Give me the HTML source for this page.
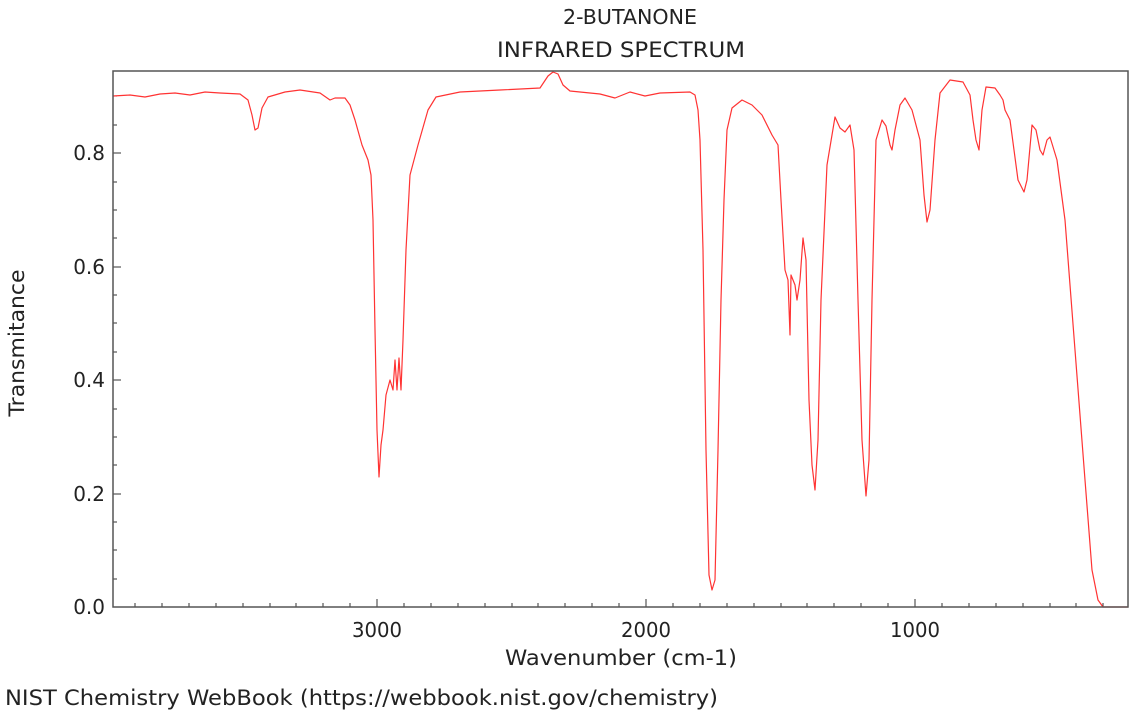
<!DOCTYPE html>
<html><head><meta charset="utf-8"><style>
html,body{margin:0;padding:0;background:#fff;}
svg{display:block;font-family:"DejaVu Sans","Liberation Sans",sans-serif;}
</style></head><body>
<svg width="1130" height="712" viewBox="0 0 1130 712" xmlns="http://www.w3.org/2000/svg">
<rect width="1130" height="712" fill="#fff"/>
<text x="630" y="24" font-size="20" text-anchor="middle" fill="#222" textLength="134" lengthAdjust="spacingAndGlyphs">2-BUTANONE</text>
<text x="621" y="57" font-size="21" text-anchor="middle" fill="#222" textLength="248" lengthAdjust="spacingAndGlyphs">INFRARED SPECTRUM</text>
<g stroke="#333" stroke-width="1">
<line x1="113" y1="153" x2="121" y2="153"/><line x1="113" y1="267" x2="121" y2="267"/>
<line x1="113" y1="380" x2="121" y2="380"/><line x1="113" y1="494" x2="121" y2="494"/>
<line x1="113" y1="96" x2="117" y2="96"/><line x1="113" y1="125" x2="117" y2="125"/>
<line x1="113" y1="182" x2="117" y2="182"/><line x1="113" y1="210" x2="117" y2="210"/><line x1="113" y1="238" x2="117" y2="238"/>
<line x1="113" y1="295" x2="117" y2="295"/><line x1="113" y1="323" x2="117" y2="323"/><line x1="113" y1="352" x2="117" y2="352"/>
<line x1="113" y1="409" x2="117" y2="409"/><line x1="113" y1="437" x2="117" y2="437"/><line x1="113" y1="465" x2="117" y2="465"/>
<line x1="113" y1="522" x2="117" y2="522"/><line x1="113" y1="550" x2="117" y2="550"/><line x1="113" y1="579" x2="117" y2="579"/>
<line x1="377" y1="607" x2="377" y2="599"/><line x1="646" y1="607" x2="646" y2="599"/><line x1="915" y1="607" x2="915" y2="599"/>
</g>
<g stroke="#333" stroke-width="1">
<line x1="135" y1="607" x2="135" y2="603"/><line x1="162" y1="607" x2="162" y2="603"/><line x1="189" y1="607" x2="189" y2="603"/><line x1="216" y1="607" x2="216" y2="603"/><line x1="243" y1="607" x2="243" y2="603"/><line x1="270" y1="607" x2="270" y2="603"/><line x1="296" y1="607" x2="296" y2="603"/><line x1="323" y1="607" x2="323" y2="603"/><line x1="350" y1="607" x2="350" y2="603"/>
<line x1="404" y1="607" x2="404" y2="603"/><line x1="431" y1="607" x2="431" y2="603"/><line x1="458" y1="607" x2="458" y2="603"/><line x1="485" y1="607" x2="485" y2="603"/><line x1="512" y1="607" x2="512" y2="603"/><line x1="538" y1="607" x2="538" y2="603"/><line x1="565" y1="607" x2="565" y2="603"/><line x1="592" y1="607" x2="592" y2="603"/><line x1="619" y1="607" x2="619" y2="603"/>
<line x1="673" y1="607" x2="673" y2="603"/><line x1="700" y1="607" x2="700" y2="603"/><line x1="727" y1="607" x2="727" y2="603"/><line x1="754" y1="607" x2="754" y2="603"/><line x1="781" y1="607" x2="781" y2="603"/><line x1="807" y1="607" x2="807" y2="603"/><line x1="834" y1="607" x2="834" y2="603"/><line x1="861" y1="607" x2="861" y2="603"/><line x1="888" y1="607" x2="888" y2="603"/>
<line x1="942" y1="607" x2="942" y2="603"/><line x1="969" y1="607" x2="969" y2="603"/><line x1="996" y1="607" x2="996" y2="603"/><line x1="1023" y1="607" x2="1023" y2="603"/><line x1="1050" y1="607" x2="1050" y2="603"/><line x1="1076" y1="607" x2="1076" y2="603"/><line x1="1103" y1="607" x2="1103" y2="603"/>
</g>
<polyline fill="none" stroke="#f33" stroke-width="1.2" stroke-linejoin="round" points="
113,96 130,95 145,97 160,94 175,93 190,95 205,92 220,93 240,94 248,100 252,115 255,130 258,128 262,108 268,97 285,92 300,90 320,93 330,100 335,98 345,98 350,105 355,120 362,145 368,160 371,175 373,220 375,330 377,430 379,477 381,445 383,430 386,395 390,380 393,390 395,360 397,390 399,358 401,390 403,340 406,250 410,175 418,145 428,110 436,97 460,92 500,90 540,88 548,76 553,72 558,74 563,85 570,91 600,94 615,98 630,92 645,96 660,93 690,92 695,95 698,110 700,140 703,250 706,450 709,575 712,590 715,580 718,450 721,300 724,200 727,130 732,108 742,100 752,105 762,115 772,135 778,145 781,200 785,270 788,280 790,335 791,275 795,285 797,300 800,280 803,238 806,260 809,400 812,465 815,490 818,440 821,300 827,165 835,117 840,128 845,132 850,125 854,150 858,300 862,440 866,496 869,460 872,300 876,140 882,120 886,126 890,145 892,150 895,130 900,105 905,98 912,110 920,140 924,195 927,222 930,210 935,140 940,93 950,80 963,82 970,95 973,120 976,140 979,150 982,110 986,87 995,88 1000,95 1003,100 1005,110 1010,120 1018,180 1024,192 1027,180 1032,125 1036,130 1040,150 1043,155 1047,140 1050,137 1057,160 1065,220 1075,350 1085,480 1092,570 1098,600 1103,607 1128,607"/>
<rect x="113" y="71" width="1015" height="536" fill="none" stroke="#555" stroke-width="1.5"/>
<g font-size="20" fill="#222">
<text x="105" y="160" text-anchor="end">0.8</text>
<text x="105" y="274" text-anchor="end">0.6</text>
<text x="105" y="387" text-anchor="end">0.4</text>
<text x="105" y="501" text-anchor="end">0.2</text>
<text x="105" y="614" text-anchor="end">0.0</text>
<text x="377" y="637" text-anchor="middle" textLength="50" lengthAdjust="spacingAndGlyphs">3000</text>
<text x="646" y="637" text-anchor="middle" textLength="50" lengthAdjust="spacingAndGlyphs">2000</text>
<text x="915" y="637" text-anchor="middle" textLength="50" lengthAdjust="spacingAndGlyphs">1000</text>
</g>
<g font-size="21" fill="#222">
<text x="621" y="665" text-anchor="middle" textLength="232" lengthAdjust="spacingAndGlyphs">Wavenumber (cm-1)</text>
<text transform="translate(24,343) rotate(-90)" text-anchor="middle" textLength="147" lengthAdjust="spacingAndGlyphs">Transmitance</text>
<text x="5" y="705" textLength="713" lengthAdjust="spacingAndGlyphs">NIST Chemistry WebBook (https://webbook.nist.gov/chemistry)</text>
</g>
</svg>
</body></html>
